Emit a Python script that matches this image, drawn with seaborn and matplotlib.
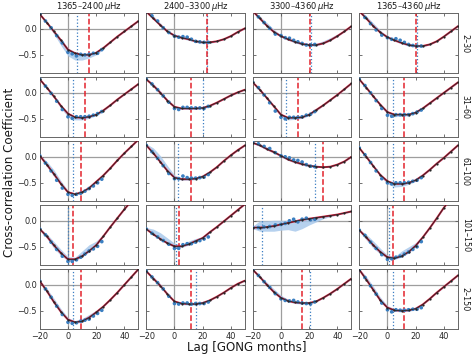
import matplotlib
matplotlib.use("Agg")
import numpy as np
import seaborn as sns
import matplotlib.pyplot as plt

# lag grid of the cross-correlation curves and of the highlighted data points
LAGS = [-20, -15, -10, -5, 0, 5, 10, 15, 20, 25, 30, 35, 40, 45, 50]
DOT_LAGS = [-20, -16, -12, -8, -4, 0, 3, 6, 9, 12, 15, 18, 21, 24]

COL_TITLES = ["1365–2400$\\,\\mu$Hz", "2400–3300$\\,\\mu$Hz",
              "3300–4360$\\,\\mu$Hz", "1365–4360$\\,\\mu$Hz"]
ROW_LABELS = ["2–30", "31–60", "61–100", "101–150", "2–150"]

# cross-correlation coefficient per row (one list per frequency band)
CC_R1 = [[0.28, 0.12, -0.05, -0.22, -0.40, -0.47, -0.50, -0.50, -0.46, -0.37, -0.26, -0.15, -0.05, 0.05, 0.15],
         [0.33, 0.20, 0.07, -0.05, -0.13, -0.17, -0.20, -0.24, -0.26, -0.26, -0.24, -0.20, -0.14, -0.06, 0.01],
         [0.34, 0.20, 0.06, -0.06, -0.14, -0.20, -0.25, -0.29, -0.31, -0.31, -0.28, -0.22, -0.14, -0.05, 0.05],
         [0.34, 0.20, 0.05, -0.07, -0.16, -0.22, -0.27, -0.31, -0.33, -0.33, -0.30, -0.24, -0.15, -0.05, 0.05]]
CC_R2 = [[0.26, 0.10, -0.07, -0.25, -0.40, -0.47, -0.48, -0.46, -0.42, -0.34, -0.24, -0.13, -0.03, 0.07, 0.17],
         [0.26, 0.14, 0.00, -0.15, -0.27, -0.30, -0.30, -0.30, -0.29, -0.25, -0.19, -0.12, -0.05, 0.01, 0.06],
         [0.20, 0.06, -0.10, -0.26, -0.42, -0.48, -0.48, -0.47, -0.42, -0.33, -0.24, -0.14, -0.04, 0.07, 0.18],
         [0.26, 0.10, -0.07, -0.23, -0.37, -0.42, -0.42, -0.42, -0.38, -0.30, -0.20, -0.10, 0.00, 0.10, 0.20]]
CC_R3 = [[0.02, -0.15, -0.33, -0.52, -0.68, -0.72, -0.68, -0.60, -0.48, -0.36, -0.22, -0.07, 0.07, 0.20, 0.33],
         [0.22, 0.07, -0.10, -0.27, -0.40, -0.43, -0.43, -0.42, -0.38, -0.30, -0.20, -0.08, 0.03, 0.13, 0.22],
         [0.27, 0.22, 0.15, 0.09, 0.02, -0.05, -0.10, -0.14, -0.17, -0.19, -0.20, -0.19, -0.15, -0.09, 0.00],
         [0.17, 0.00, -0.18, -0.35, -0.47, -0.52, -0.52, -0.50, -0.45, -0.36, -0.25, -0.13, -0.02, 0.10, 0.22]]
CC_R4 = [[-0.16, -0.30, -0.47, -0.62, -0.74, -0.74, -0.68, -0.58, -0.47, -0.30, -0.12, 0.05, 0.22, 0.38, 0.55],
         [-0.16, -0.26, -0.35, -0.43, -0.49, -0.49, -0.45, -0.39, -0.33, -0.22, -0.12, -0.01, 0.10, 0.21, 0.32],
         [-0.13, -0.13, -0.12, -0.10, -0.07, -0.04, -0.01, 0.02, 0.04, 0.06, 0.08, 0.10, 0.12, 0.15, 0.18],
         [-0.18, -0.32, -0.47, -0.60, -0.70, -0.72, -0.68, -0.60, -0.48, -0.32, -0.14, 0.05, 0.25, 0.43, 0.60]]
CC_R5 = [[0.07, -0.12, -0.33, -0.52, -0.67, -0.72, -0.70, -0.63, -0.53, -0.42, -0.29, -0.15, 0.00, 0.15, 0.30],
         [0.26, 0.12, -0.02, -0.18, -0.32, -0.36, -0.37, -0.37, -0.35, -0.30, -0.23, -0.15, -0.06, 0.02, 0.08],
         [0.29, 0.15, 0.00, -0.14, -0.25, -0.31, -0.34, -0.35, -0.35, -0.32, -0.25, -0.17, -0.08, 0.02, 0.12],
         [0.29, 0.10, -0.10, -0.30, -0.44, -0.49, -0.50, -0.49, -0.46, -0.38, -0.27, -0.15, -0.04, 0.07, 0.18]]

# individual measurements (blue points)
DOT_R1 = [[0.28, 0.15, 0.02, -0.13, -0.27, -0.45, -0.48, -0.52, -0.49, -0.50, -0.49, -0.47, -0.47, -0.40],
          [0.33, 0.25, 0.15, 0.02, -0.07, -0.14, -0.16, -0.15, -0.16, -0.20, -0.24, -0.25, -0.26, -0.26],
          [0.34, 0.23, 0.12, 0.01, -0.10, -0.13, -0.17, -0.18, -0.22, -0.25, -0.28, -0.31, -0.31, -0.30],
          [0.34, 0.22, 0.10, -0.02, -0.12, -0.17, -0.20, -0.19, -0.22, -0.26, -0.30, -0.32, -0.33, -0.33]]
DOT_R2 = [[0.26, 0.13, -0.01, -0.16, -0.32, -0.46, -0.49, -0.46, -0.46, -0.46, -0.45, -0.43, -0.40, -0.36],
          [0.26, 0.17, 0.06, -0.06, -0.18, -0.30, -0.32, -0.28, -0.28, -0.29, -0.29, -0.29, -0.30, -0.26],
          [0.20, 0.10, -0.04, -0.19, -0.35, -0.47, -0.50, -0.47, -0.47, -0.47, -0.46, -0.43, -0.41, -0.36],
          [0.26, 0.14, 0.00, -0.15, -0.30, -0.43, -0.45, -0.42, -0.42, -0.42, -0.42, -0.40, -0.37, -0.33]]
DOT_R3 = [[0.02, -0.12, -0.27, -0.45, -0.60, -0.72, -0.74, -0.72, -0.70, -0.66, -0.61, -0.56, -0.50, -0.43],
          [0.22, 0.10, -0.03, -0.17, -0.32, -0.42, -0.42, -0.37, -0.40, -0.41, -0.41, -0.40, -0.39, -0.34],
          [0.27, 0.25, 0.20, 0.16, 0.08, 0.02, 0.00, -0.02, -0.06, -0.07, -0.10, -0.15, -0.18, -0.19],
          [0.17, 0.04, -0.11, -0.27, -0.42, -0.50, -0.52, -0.50, -0.50, -0.50, -0.49, -0.47, -0.45, -0.40]]
DOT_R4 = [[-0.16, -0.27, -0.41, -0.55, -0.68, -0.78, -0.78, -0.75, -0.70, -0.64, -0.58, -0.54, -0.49, -0.40],
          [-0.16, -0.24, -0.31, -0.38, -0.45, -0.53, -0.53, -0.46, -0.44, -0.44, -0.41, -0.38, -0.35, -0.31],
          [-0.13, -0.13, -0.12, -0.11, -0.08, -0.07, -0.05, 0.00, 0.03, -0.02, 0.03, 0.05, 0.02, 0.03],
          [-0.18, -0.28, -0.41, -0.53, -0.65, -0.74, -0.73, -0.70, -0.68, -0.64, -0.60, -0.55, -0.50, -0.40]]
DOT_R5 = [[0.07, -0.08, -0.24, -0.41, -0.57, -0.72, -0.74, -0.73, -0.70, -0.68, -0.66, -0.60, -0.55, -0.49],
          [0.26, 0.15, 0.04, -0.08, -0.22, -0.36, -0.37, -0.35, -0.35, -0.37, -0.36, -0.36, -0.36, -0.33],
          [0.29, 0.18, 0.06, -0.05, -0.17, -0.27, -0.30, -0.31, -0.30, -0.33, -0.35, -0.36, -0.37, -0.33],
          [0.29, 0.14, -0.02, -0.18, -0.35, -0.48, -0.52, -0.48, -0.49, -0.49, -0.48, -0.47, -0.47, -0.44]]

# spread of the band below / above the curve
DN_R1 = [[0.01, 0.02, 0.05, 0.10, 0.12, 0.13, 0.10, 0.06, 0.04, 0.02, 0.01, 0.01, 0.01, 0.01, 0.01],
         [0.01, 0.02, 0.02, 0.02, 0.02, 0.02, 0.02, 0.02, 0.02, 0.02, 0.01, 0.01, 0.01, 0.01, 0.01],
         [0.01, 0.02, 0.02, 0.02, 0.02, 0.02, 0.02, 0.02, 0.02, 0.02, 0.01, 0.01, 0.01, 0.01, 0.01],
         [0.01, 0.02, 0.02, 0.02, 0.02, 0.02, 0.02, 0.02, 0.02, 0.02, 0.01, 0.01, 0.01, 0.01, 0.01]]
UP_R1 = [[0.01, 0.02, 0.03, 0.03, 0.03, 0.03, 0.03, 0.03, 0.02, 0.02, 0.01, 0.01, 0.01, 0.01, 0.01],
         [0.03, 0.05, 0.04, 0.02, 0.02, 0.02, 0.02, 0.02, 0.02, 0.02, 0.02, 0.01, 0.01, 0.01, 0.01],
         [0.02, 0.04, 0.06, 0.05, 0.02, 0.02, 0.02, 0.02, 0.02, 0.03, 0.05, 0.05, 0.04, 0.02, 0.01],
         [0.02, 0.05, 0.06, 0.04, 0.02, 0.02, 0.02, 0.02, 0.02, 0.02, 0.02, 0.02, 0.02, 0.02, 0.01]]
DN_R2 = [[0.01, 0.02, 0.03, 0.05, 0.06, 0.05, 0.04, 0.03, 0.02, 0.02, 0.01, 0.01, 0.01, 0.01, 0.01],
         [0.01, 0.02, 0.02, 0.02, 0.02, 0.02, 0.02, 0.02, 0.02, 0.02, 0.01, 0.01, 0.01, 0.01, 0.01],
         [0.01, 0.02, 0.02, 0.03, 0.04, 0.04, 0.03, 0.02, 0.02, 0.02, 0.01, 0.01, 0.01, 0.01, 0.01],
         [0.01, 0.02, 0.02, 0.03, 0.04, 0.04, 0.03, 0.02, 0.02, 0.02, 0.01, 0.01, 0.01, 0.01, 0.01]]
UP_R2 = [[0.01, 0.02, 0.02, 0.02, 0.02, 0.02, 0.02, 0.02, 0.02, 0.01, 0.01, 0.01, 0.01, 0.01, 0.01],
         [0.02, 0.04, 0.04, 0.03, 0.02, 0.02, 0.02, 0.02, 0.02, 0.01, 0.01, 0.01, 0.01, 0.01, 0.01],
         [0.01, 0.03, 0.03, 0.02, 0.02, 0.02, 0.02, 0.02, 0.02, 0.01, 0.01, 0.01, 0.01, 0.01, 0.01],
         [0.01, 0.03, 0.03, 0.02, 0.02, 0.02, 0.02, 0.02, 0.02, 0.01, 0.01, 0.01, 0.01, 0.01, 0.01]]
DN_R3 = [[0.02, 0.04, 0.05, 0.03, 0.02, 0.02, 0.02, 0.02, 0.02, 0.01, 0.01, 0.01, 0.01, 0.01, 0.01],
         [0.01, 0.02, 0.02, 0.02, 0.02, 0.02, 0.02, 0.02, 0.02, 0.01, 0.01, 0.01, 0.01, 0.01, 0.01],
         [0.01, 0.02, 0.02, 0.02, 0.02, 0.02, 0.02, 0.02, 0.02, 0.01, 0.01, 0.01, 0.01, 0.01, 0.01],
         [0.01, 0.02, 0.02, 0.03, 0.05, 0.06, 0.05, 0.03, 0.02, 0.01, 0.01, 0.01, 0.01, 0.01, 0.01]]
UP_R3 = [[0.02, 0.06, 0.08, 0.06, 0.03, 0.02, 0.02, 0.02, 0.02, 0.01, 0.01, 0.01, 0.01, 0.01, 0.01],
         [0.03, 0.10, 0.12, 0.10, 0.05, 0.03, 0.04, 0.03, 0.02, 0.01, 0.01, 0.01, 0.01, 0.01, 0.01],
         [0.02, 0.03, 0.04, 0.03, 0.02, 0.02, 0.03, 0.03, 0.02, 0.02, 0.02, 0.01, 0.01, 0.01, 0.01],
         [0.01, 0.03, 0.03, 0.02, 0.02, 0.02, 0.02, 0.02, 0.02, 0.01, 0.01, 0.01, 0.01, 0.01, 0.01]]
DN_R4 = [[0.02, 0.04, 0.06, 0.05, 0.03, 0.02, 0.02, 0.02, 0.02, 0.01, 0.01, 0.01, 0.01, 0.01, 0.01],
         [0.01, 0.02, 0.02, 0.02, 0.02, 0.02, 0.02, 0.02, 0.02, 0.01, 0.01, 0.01, 0.01, 0.01, 0.01],
         [0.02, 0.07, 0.08, 0.10, 0.11, 0.13, 0.19, 0.17, 0.12, 0.08, 0.04, 0.02, 0.01, 0.01, 0.01],
         [0.02, 0.05, 0.06, 0.04, 0.03, 0.02, 0.02, 0.02, 0.02, 0.01, 0.01, 0.01, 0.01, 0.01, 0.01]]
UP_R4 = [[0.02, 0.05, 0.07, 0.07, 0.05, 0.04, 0.10, 0.12, 0.08, 0.04, 0.02, 0.01, 0.01, 0.01, 0.01],
         [0.03, 0.10, 0.12, 0.10, 0.06, 0.03, 0.06, 0.05, 0.02, 0.01, 0.01, 0.01, 0.01, 0.01, 0.01],
         [0.03, 0.13, 0.12, 0.11, 0.08, 0.05, 0.03, 0.02, 0.02, 0.02, 0.01, 0.01, 0.01, 0.01, 0.01],
         [0.02, 0.06, 0.08, 0.07, 0.04, 0.03, 0.10, 0.10, 0.06, 0.03, 0.01, 0.01, 0.01, 0.01, 0.01]]
DN_R5 = [[0.02, 0.03, 0.04, 0.03, 0.02, 0.02, 0.02, 0.02, 0.02, 0.01, 0.01, 0.01, 0.01, 0.01, 0.01],
         [0.01, 0.02, 0.02, 0.02, 0.02, 0.02, 0.02, 0.02, 0.02, 0.01, 0.01, 0.01, 0.01, 0.01, 0.01],
         [0.01, 0.02, 0.02, 0.02, 0.02, 0.02, 0.02, 0.02, 0.02, 0.01, 0.01, 0.01, 0.01, 0.01, 0.01],
         [0.02, 0.03, 0.04, 0.03, 0.02, 0.02, 0.02, 0.02, 0.02, 0.01, 0.01, 0.01, 0.01, 0.01, 0.01]]
UP_R5 = [[0.02, 0.05, 0.07, 0.06, 0.04, 0.03, 0.05, 0.06, 0.04, 0.02, 0.01, 0.01, 0.01, 0.01, 0.01],
         [0.02, 0.04, 0.04, 0.03, 0.02, 0.02, 0.03, 0.03, 0.02, 0.01, 0.01, 0.01, 0.01, 0.01, 0.01],
         [0.02, 0.03, 0.05, 0.06, 0.05, 0.03, 0.02, 0.02, 0.02, 0.01, 0.01, 0.01, 0.01, 0.01, 0.01],
         [0.02, 0.06, 0.07, 0.06, 0.04, 0.03, 0.05, 0.04, 0.02, 0.01, 0.01, 0.01, 0.01, 0.01, 0.01]]

# lag of the fitted minimum (red dashed) and of the data minimum (blue dotted)
FIT_MIN = [[15, 23, 20.6, 20.6], [12, 12, 12, 12], [9, 12, 29.5, 12],
           [3.4, 3, -19.5, 3.6], [9.2, 12, 15, 12]]
DATA_MIN = [[6.5, 23, 21, 21], [3.4, 20, 3.3, 3.6], [3.4, 2.5, 24, 4],
            [0.3, 1, -13.7, 1], [3.8, 15, 20.8, 3.6]]

CC = [CC_R1, CC_R2, CC_R3, CC_R4, CC_R5]
DOTS = [DOT_R1, DOT_R2, DOT_R3, DOT_R4, DOT_R5]
DN = [DN_R1, DN_R2, DN_R3, DN_R4, DN_R5]
UP = [UP_R1, UP_R2, UP_R3, UP_R4, UP_R5]

sns.set_theme(style="ticks")
plt.rcParams['font.family'] = ['DejaVu Sans']

fig, axes = plt.subplots(5, 4, figsize=(4.74, 3.58), dpi=100, sharex=True, sharey=True)
fig.subplots_adjust(left=0.084, right=0.966, top=0.963, bottom=0.081,
                    wspace=0.08, hspace=0.07)

for i in range(5):
    for j in range(4):
        ax = axes[i, j]
        cc = np.array(CC[i][j])
        lo = cc - np.array(DN[i][j])
        hi = cc + np.array(UP[i][j])

        ax.axhline(0, color='0.62', lw=0.9, zorder=0)
        ax.axvline(0, color='0.62', lw=0.9, zorder=0)
        ax.fill_between(LAGS, lo, hi, color='#a9c9ec', alpha=0.85, lw=0, zorder=1)
        ax.axvline(DATA_MIN[i][j], color='#3a7dc2', ls=':', lw=0.9, zorder=2)
        ax.axvline(FIT_MIN[i][j], color='#e3232c', ls='--', lw=1.1, zorder=2)

        sns.lineplot(x=LAGS, y=cc, ax=ax, color='#d8203f', lw=1.4, zorder=3)
        sns.scatterplot(x=DOT_LAGS, y=DOTS[i][j], ax=ax, color='#3b7fc1',
                        s=7, edgecolor='none', zorder=4)
        sns.lineplot(x=LAGS, y=cc, ax=ax, color='0.15', lw=0.6, marker='o',
                     markersize=1.6, markeredgewidth=0, zorder=5)

        ax.set_xlim(-20, 50)
        ax.set_ylim(-0.85, 0.3)
        ax.set_xticks([-20, 0, 20, 40])
        ax.set_yticks([-0.5, 0.0])
        ax.tick_params(direction='in', length=2.5, width=0.6, top=True, right=True,
                       labelsize=5.9, pad=2, colors='0.35', labelcolor='0.15')
        for sp in ax.spines.values():
            sp.set_color('0.4')
            sp.set_linewidth(0.7)
        ax.set_xlabel('')
        ax.set_ylabel('')

        if i == 0:
            ax.set_title(COL_TITLES[j], fontsize=6.0, pad=1.5, color='0.1')
        if j == 3:
            ax.text(1.03, 0.5, ROW_LABELS[i], rotation=270, transform=ax.transAxes,
                    va='center', ha='left', fontsize=5.8, color='0.1')

fig.text(0.019, 0.518, 'Cross-correlation Coefficient', rotation=90,
         va='center', ha='center', fontsize=8.6, color='0.1')
fig.text(0.52, 0.028, 'Lag [GONG months]', va='center', ha='center',
         fontsize=8.6, color='0.1')

fig.savefig('out.png', dpi=100)
